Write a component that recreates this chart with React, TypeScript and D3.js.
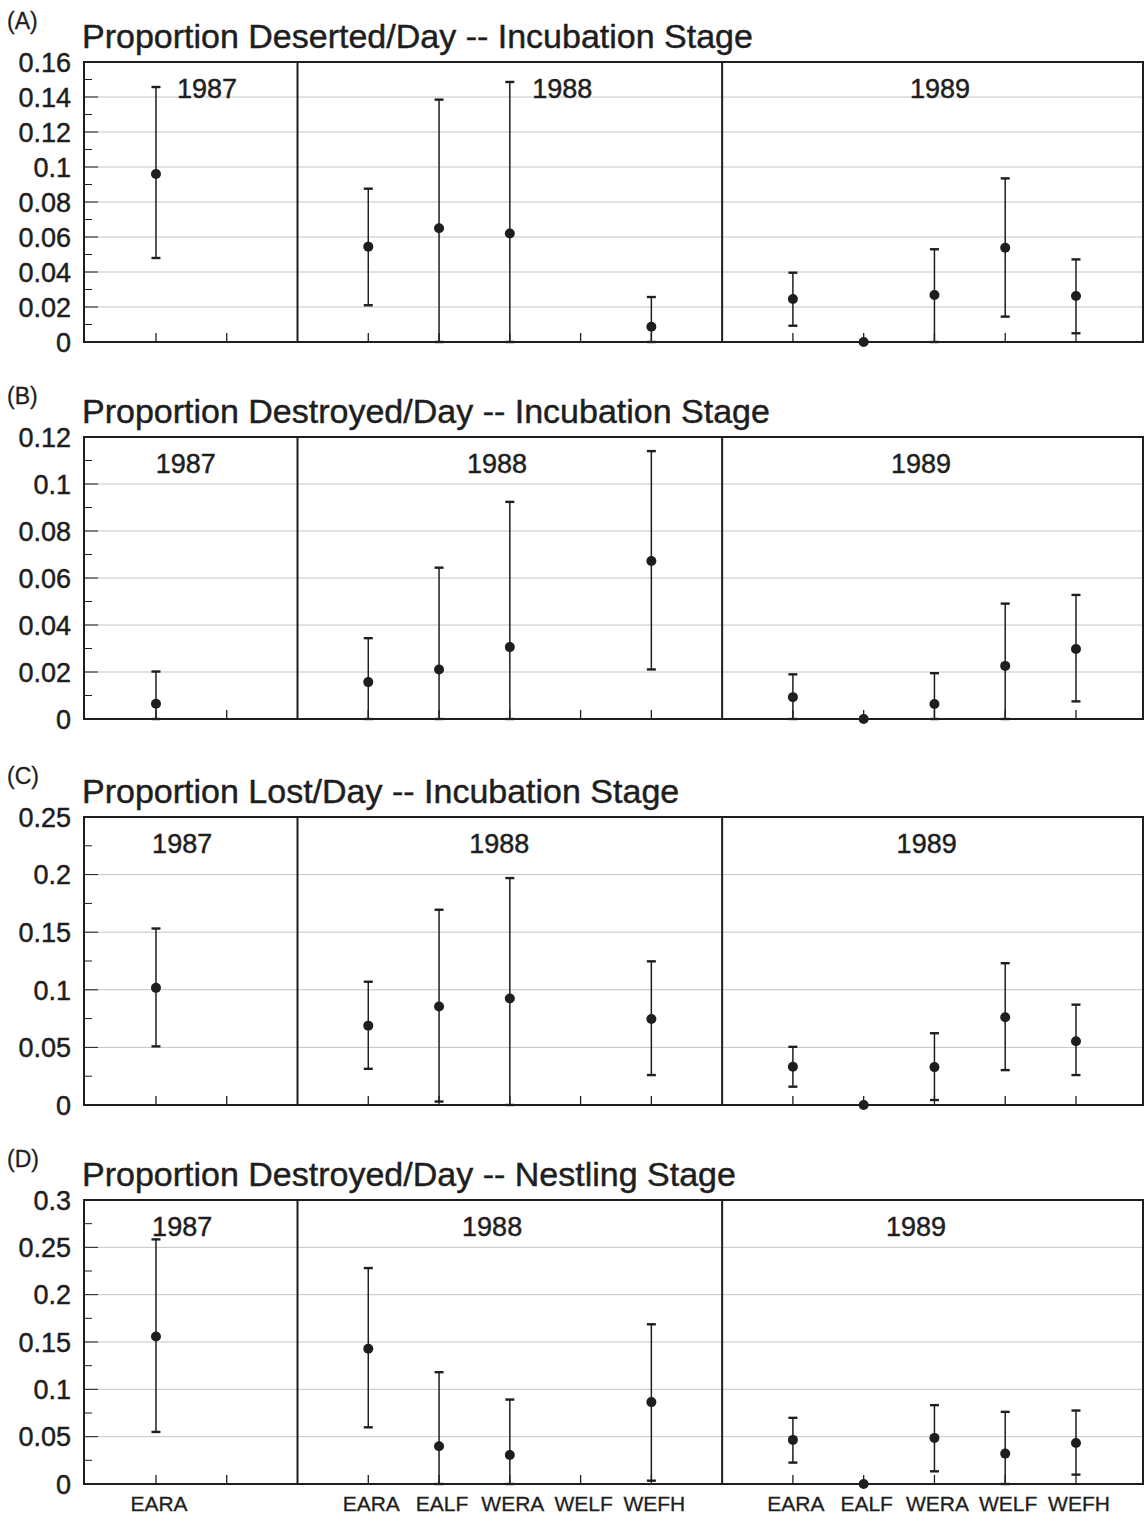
import React from "react";
import * as d3 from "d3";

// ---------- data ----------
const years = ["1987", "1988", "1989"];
const speciesByYear = [
  ["EARA"],
  ["EARA", "EALF", "WERA", "WELF", "WEFH"],
  ["EARA", "EALF", "WERA", "WELF", "WEFH"],
];
const panelLetters = ["(A)", "(B)", "(C)", "(D)"];
const panelTitles = [
  "Proportion Deserted/Day -- Incubation Stage",
  "Proportion Destroyed/Day -- Incubation Stage",
  "Proportion Lost/Day -- Incubation Stage",
  "Proportion Destroyed/Day -- Nestling Stage",
];
const yMax = [0.16, 0.12, 0.25, 0.3];
const yStep = [0.02, 0.02, 0.05, 0.05];

// order: 1987 EARA | 1988 EARA EALF WERA WELF WEFH | 1989 EARA EALF WERA WELF WEFH
const desertedMean = [0.096, 0.0545, 0.065, 0.062, null, 0.0087, 0.0246, 0, 0.0269, 0.0539, 0.0263];
const desertedLow = [0.048, 0.021, 0, 0, null, 0, 0.0093, 0, 0, 0.0145, 0.005];
const desertedHigh = [0.1457, 0.0876, 0.1385, 0.1486, null, 0.0257, 0.0396, 0, 0.053, 0.0935, 0.0472];

const destroyedIncMean = [0.0065, 0.0157, 0.0211, 0.0306, null, 0.0672, 0.0093, 0, 0.0064, 0.0226, 0.0298];
const destroyedIncLow = [0, 0, 0, 0, null, 0.0211, 0, 0, 0, 0, 0.0075];
const destroyedIncHigh = [0.0202, 0.0344, 0.0644, 0.0924, null, 0.114, 0.019, 0, 0.0195, 0.0491, 0.0528];

const lostMean = [0.1017, 0.0689, 0.0855, 0.0924, null, 0.0747, 0.0332, 0, 0.0329, 0.0761, 0.0554];
const lostLow = [0.0509, 0.0314, 0.003, 0, null, 0.026, 0.0159, 0, 0.0043, 0.0303, 0.026];
const lostHigh = [0.1532, 0.107, 0.1695, 0.197, null, 0.1247, 0.0505, 0, 0.0623, 0.1231, 0.0871];

const nestMean = [0.1558, 0.1428, 0.0398, 0.0307, null, 0.0865, 0.0466, 0, 0.0487, 0.0321, 0.0434];
const nestLow = [0.055, 0.0599, 0, 0, null, 0.0035, 0.0226, 0, 0.0134, 0, 0.0099];
const nestHigh = [0.2584, 0.2281, 0.1181, 0.0892, null, 0.1687, 0.0699, 0, 0.0833, 0.0762, 0.0776];

const panelSeries = [
  [desertedMean, desertedLow, desertedHigh],
  [destroyedIncMean, destroyedIncLow, destroyedIncHigh],
  [lostMean, lostLow, lostHigh],
  [nestMean, nestLow, nestHigh],
];

// ---------- layout ----------
const W = 1145;
const H = 1517;
const sectionSlots = [3, 6, 6];
const panelTop = [62, 437, 817, 1200];
const panelBottom = [342, 719, 1105, 1484];
const frameLeft = 84;
const frameRight = 1143;
const yearLabelPos = [
  [1.72, 6.74, 12.08],
  [1.42, 5.82, 11.81],
  [1.37, 5.85, 11.89],
  [1.37, 5.75, 11.74],
];
const FONT = "'Liberation Sans', Arial, Helvetica, sans-serif";
const INK = "#1e1e1e";
const TEXT_STROKE = { stroke: INK, strokeWidth: 0.45 };

const x = d3.scaleLinear().domain([0, 15]).range([85.2, 85.2 + 15 * 70.77]);

// slot positions of categories and ticks
const sectionStart = sectionSlots.map((_, i) => d3.sum(sectionSlots.slice(0, i)));
const categorySlots: number[] = [];
const categoryNames: string[] = [];
speciesByYear.forEach((sp, yi) => {
  sp.forEach((s, j) => {
    categorySlots.push(sectionStart[yi] + 1 + j);
    categoryNames.push(s);
  });
});
const tickSlots: number[] = [];
sectionSlots.forEach((n, yi) => {
  for (let k = 1; k < n; k++) tickSlots.push(sectionStart[yi] + k);
});
const dividerSlots = sectionStart.slice(1);

const fmt = (v: number) => String(+v.toFixed(3));

function Panel({ idx }: { idx: number }) {
  const top = panelTop[idx];
  const bottom = panelBottom[idx];
  const y = d3.scaleLinear().domain([0, yMax[idx]]).range([bottom, top]);
  const nMajor = Math.round(yMax[idx] / yStep[idx]);
  const majors = d3.range(nMajor + 1).map((i) => i * yStep[idx]);
  const minors = d3.range(nMajor).map((i) => (i + 0.5) * yStep[idx]);
  const [mean, lo, hi] = panelSeries[idx];

  return (
    <g>
      {/* panel letter and title */}
      <text x={7} y={top - 33} fontSize={23} fill={INK} fontFamily={FONT} {...TEXT_STROKE} strokeWidth={0.3}>
        {panelLetters[idx]}
      </text>
      <text x={82} y={top - 14} fontSize={34} fill={INK} fontFamily={FONT} {...TEXT_STROKE}>
        {panelTitles[idx]}
      </text>

      {/* gridlines */}
      {majors.slice(1, -1).map((v) => (
        <line
          key={"g" + v}
          x1={frameLeft}
          x2={frameRight}
          y1={y(v)}
          y2={y(v)}
          stroke="#c4c4c4"
          strokeWidth={1}
        />
      ))}

      {/* y ticks */}
      {majors.map((v) => (
        <line key={"t" + v} x1={frameLeft} x2={frameLeft + 14} y1={y(v)} y2={y(v)} stroke={INK} strokeWidth={1} />
      ))}
      {minors.map((v) => (
        <line key={"m" + v} x1={frameLeft} x2={frameLeft + 8} y1={y(v)} y2={y(v)} stroke={INK} strokeWidth={1} />
      ))}
      {majors.map((v) => (
        <text
          key={"l" + v}
          x={71}
          y={y(v)}
          dy="0.36em"
          textAnchor="end"
          fontSize={27}
          fill={INK}
          fontFamily={FONT}
          {...TEXT_STROKE}
        >
          {fmt(v)}
        </text>
      ))}

      {/* bottom ticks */}
      {tickSlots.map((s) => (
        <line key={"b" + s} x1={x(s)} x2={x(s)} y1={bottom} y2={bottom - 9} stroke={INK} strokeWidth={1.3} />
      ))}

      {/* frame and dividers */}
      <rect
        x={frameLeft}
        y={top}
        width={frameRight - frameLeft}
        height={bottom - top}
        fill="none"
        stroke={INK}
        strokeWidth={2}
      />
      {dividerSlots.map((s) => (
        <line key={"d" + s} x1={x(s)} x2={x(s)} y1={top} y2={bottom} stroke={INK} strokeWidth={2} />
      ))}

      {/* year labels */}
      {years.map((yr, i) => (
        <text
          key={yr}
          x={x(yearLabelPos[idx][i])}
          y={top + 36}
          textAnchor="middle"
          fontSize={27}
          fill={INK}
          fontFamily={FONT}
          {...TEXT_STROKE}
        >
          {yr}
        </text>
      ))}

      {/* error bars and points */}
      {categorySlots.map((s, i) => {
        const m = mean[i];
        if (m === null) return null;
        const cx = x(s);
        const l = lo[i] as number;
        const h = hi[i] as number;
        return (
          <g key={"p" + i}>
            {h > l && (
              <>
                <line x1={cx} x2={cx} y1={y(l)} y2={y(h)} stroke={INK} strokeWidth={1.5} />
                <line x1={cx - 4.5} x2={cx + 4.5} y1={y(h)} y2={y(h)} stroke={INK} strokeWidth={2.4} />
                <line x1={cx - 4.5} x2={cx + 4.5} y1={y(l)} y2={y(l)} stroke={INK} strokeWidth={2.4} />
              </>
            )}
            <circle cx={cx} cy={y(m)} r={5} fill={INK} />
          </g>
        );
      })}

      {/* category labels on the last panel */}
      {idx === panelTop.length - 1 &&
        categorySlots.map((s, i) => (
          <text
            key={"c" + i}
            x={x(s) + 3}
            y={bottom + 27}
            textAnchor="middle"
            fontSize={21}
            fill={INK}
            fontFamily={FONT}
            {...TEXT_STROKE}
            strokeWidth={0.3}
          >
            {categoryNames[i]}
          </text>
        ))}
    </g>
  );
}

export default function App() {
  return (
    <div style={{ position: "absolute", left: 0, top: 0 }}>
      <svg width={W} height={H} viewBox={`0 0 ${W} ${H}`} style={{ display: "block", background: "#fff" }}>
        <rect width={W} height={H} fill="#fff" />
        {panelTop.map((_, i) => (
          <Panel key={i} idx={i} />
        ))}
      </svg>
    </div>
  );
}
